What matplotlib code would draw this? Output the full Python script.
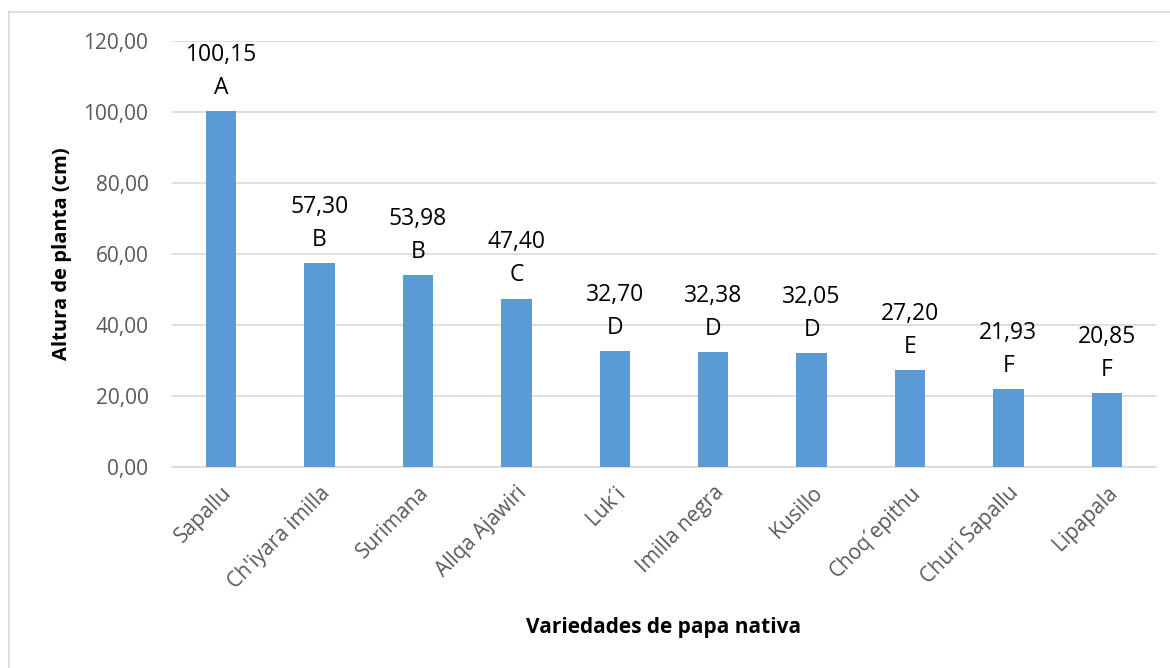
import matplotlib
matplotlib.use('Agg')
import matplotlib.pyplot as plt
from matplotlib.lines import Line2D

variedades = ['Sapallu', "Ch'iyara imilla", 'Surimana', 'Allqa Ajawiri', 'Luk\u00b4i',
              'Imilla negra', 'Kusillo', 'Choq\u00b4epithu', 'Churi Sapallu', 'Lipapala']
altura = [100.15, 57.30, 53.98, 47.40, 32.70, 32.38, 32.05, 27.20, 21.93, 20.85]
letras = ['A', 'B', 'B', 'C', 'D', 'D', 'D', 'E', 'F', 'F']

plt.rcParams['font.family'] = ['Open Sans', 'DejaVu Sans']

fig = plt.figure(figsize=(11.7, 6.68), dpi=100)
ax = fig.add_axes([0.147, 0.301, 0.841, 0.638])

x = range(len(variedades))
ax.bar(x, altura, width=0.31, color='#5B9BD5', zorder=3)

for i, (v, l) in enumerate(zip(altura, letras)):
    txt = f'{v:.2f}'.replace('.', ',') + '\n' + l
    ax.annotate(txt, (i, v), xytext=(0, 8), textcoords='offset points',
                ha='center', va='bottom', fontsize=16.5, linespacing=1.5, color='black')

ax.set_xlim(-0.5, len(variedades) - 0.5)
ax.set_ylim(0, 120)
ax.set_yticks(range(0, 121, 20))
ax.set_yticklabels([f'{t:.2f}'.replace('.', ',') for t in range(0, 121, 20)])
ax.set_xticks(list(x))
ax.set_xticklabels(variedades, rotation=45, ha='right', rotation_mode='anchor')

ax.yaxis.grid(True, color='#D9D9D9', linewidth=1.2, zorder=0)
for s in ['top', 'right', 'left']:
    ax.spines[s].set_visible(False)
ax.spines['bottom'].set_color('#D9D9D9')
ax.spines['bottom'].set_linewidth(1.2)
ax.tick_params(axis='both', length=0, labelsize=15, labelcolor='#595959')
ax.tick_params(axis='y', pad=17)
ax.tick_params(axis='x', pad=11)

ax.set_ylabel('Altura de planta (cm)', fontsize=14.5, fontweight='bold')
ax.yaxis.set_label_coords(-0.102, 0.5)
fig.text(663.5 / 1170, 1 - 627 / 668, 'Variedades de papa nativa', fontsize=15,
         fontweight='bold', ha='center', va='center')

# marco del gráfico
fig.add_artist(Line2D([9 / 1170, 1], [1 - 12 / 668, 1 - 12 / 668], color='#D9D9D9', lw=1.2))
fig.add_artist(Line2D([9 / 1170, 9 / 1170], [0, 1 - 12 / 668], color='#D9D9D9', lw=1.2))

fig.savefig('out.png', dpi=100, facecolor='white')
